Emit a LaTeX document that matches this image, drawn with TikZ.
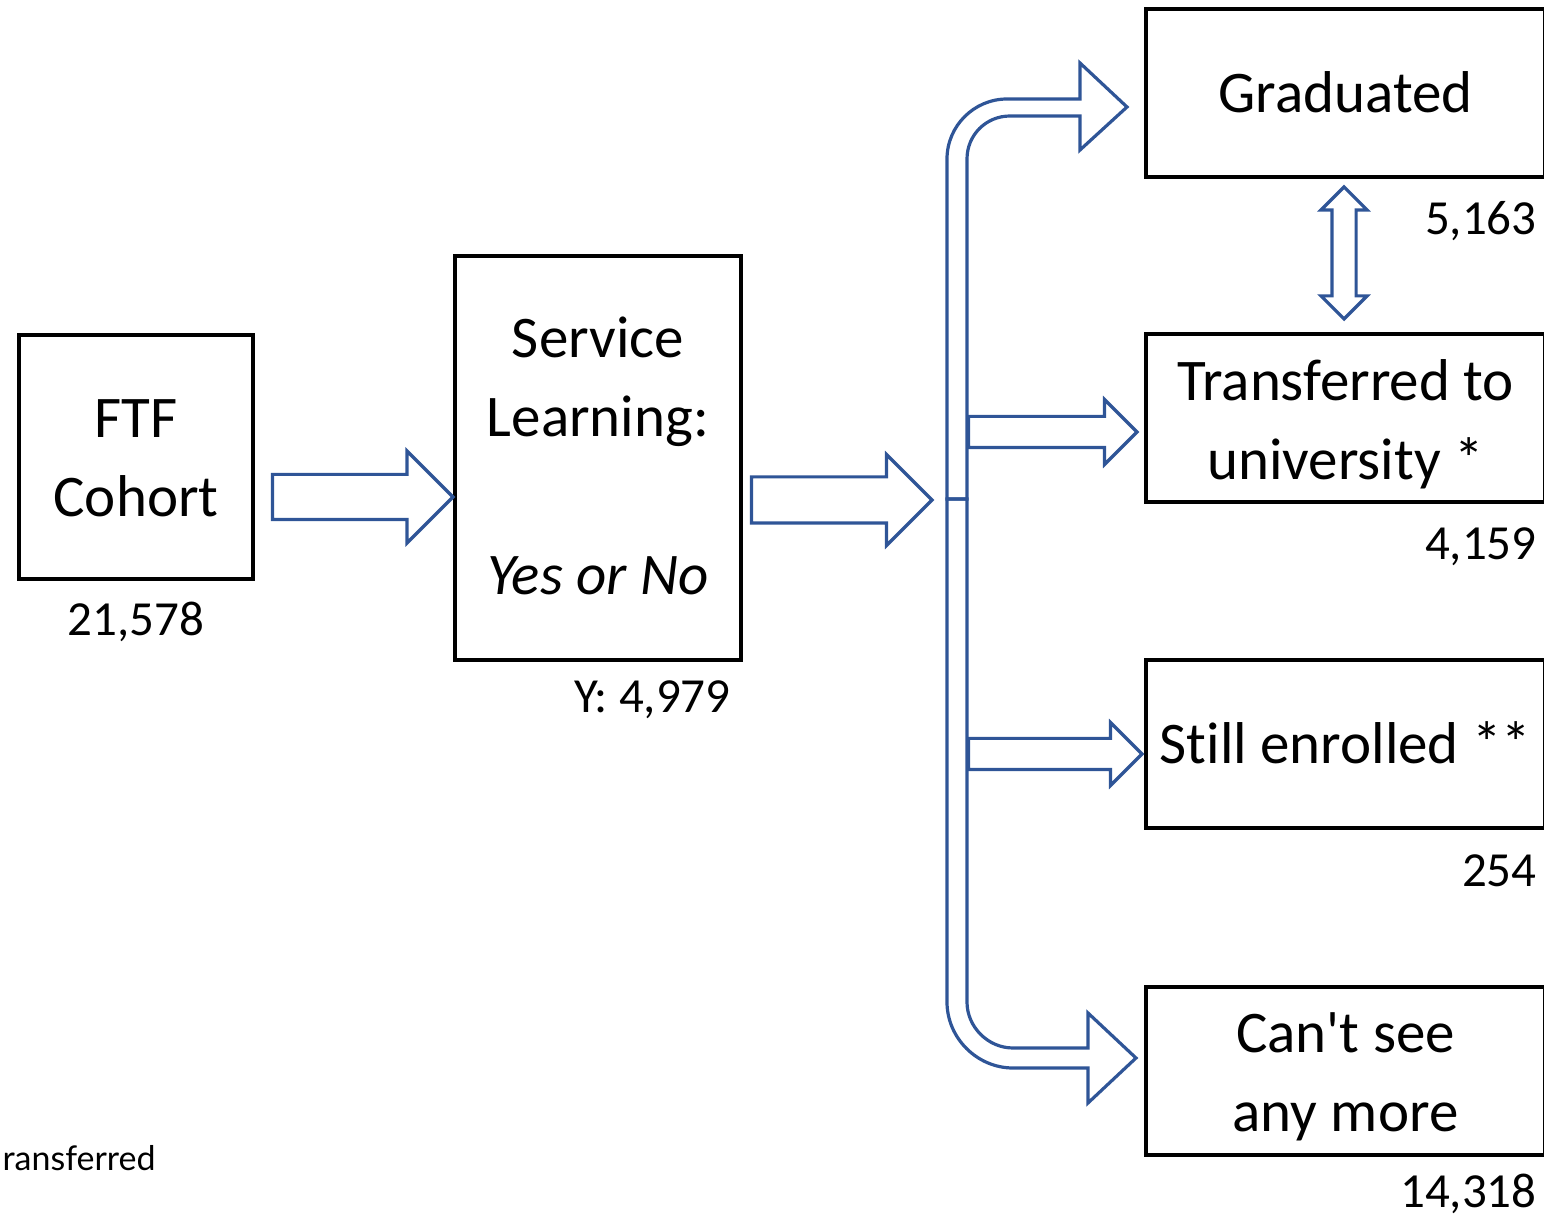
\documentclass[tikz,border=0pt]{standalone}
\usepackage{fontspec}
\setmainfont{Carlito}[Ligatures={TeXOff,NoCommon}]
\newfontfamily\notefont{Lato}
\usepackage{tikz}
\usetikzlibrary{shapes.arrows,positioning,calc}
\definecolor{arrowcol}{RGB}{47,85,151}

\begin{document}
\begin{tikzpicture}[x=0.5pt,y=-0.5pt,
   box/.style={draw,line width=2pt,inner sep=0pt},
   boxtext/.style={anchor=base,align=center,inner sep=0pt,
      font=\fontsize{29.5}{39.5}\selectfont},
   numtext/.style={anchor=base east,inner sep=0pt,font=\fontsize{24.5}{29}\selectfont},
   blockarr/.style={single arrow,draw=arrowcol,line width=1.6pt,inner xsep=0pt,
      outer sep=0pt,anchor=tip},
   bentarr/.style={draw=arrowcol,line width=1.6pt}]
  \useasboundingbox (0,0) rectangle (1544,1219);
  % ---------- boxes ----------
  \node[box,minimum width=116.75pt,minimum height=122pt] (ftf) at (136,457.5) {};
  \node[box,minimum width=143pt,minimum height=202pt] (sl) at (598,458) {};
  \node[box,minimum width=199.5pt,minimum height=84pt] (grad) at (1345.5,93) {};
  \node[box,minimum width=199.5pt,minimum height=84pt] (trans) at (1345.5,418) {};
  \node[box,minimum width=199.5pt,minimum height=84pt] (still) at (1345.5,744) {};
  \node[box,minimum width=199.5pt,minimum height=84pt] (gone) at (1345.5,1071) {};
  % ---------- box texts (base = last line) ----------
  \node[boxtext] (ftftxt) at ([yshift=-29.75pt]ftf.center) {FTF\\Cohort};
  \node[boxtext] (sltxt) at ([yshift=-68.5pt]sl.center)
     {Service\\Learning:\\\mbox{}\\\textit{Yes or No}};
  \node[boxtext] (gradtxt) at ([yshift=-10pt]grad.center) {Graduated};
  \node[boxtext] (transtxt) at ([yshift=-31pt]trans.center) {Transferred to\\university *};
  \node[boxtext] (stilltxt) at ([yshift=-9.5pt]still.center) {Still enrolled **};
  \node[boxtext] (gonetxt) at ([yshift=-30pt]gone.center) {Can't see\\any more};
  % ---------- counts ----------
  \node[numtext,anchor=base] (ftfnum) at ([yshift=-27pt]ftf.south) {21,578};
  \node[numtext] (slnum) at ([xshift=-6pt,yshift=-25.5pt]sl.south east) {Y: 4,979};
  \node[numtext] (gradnum) at ([xshift=-5pt,yshift=-28pt]grad.south east) {5,163};
  \node[numtext] (transnum) at ([xshift=-5pt,yshift=-28pt]trans.south east) {4,159};
  \node[numtext] (stillnum) at ([xshift=-5pt,yshift=-28pt]still.south east) {254};
  \node[numtext] (gonenum) at ([xshift=-5pt,yshift=-25pt]gone.south east) {14,318};
  \node[anchor=base east,inner sep=0pt,font=\notefont\fontsize{17}{20}\selectfont]
     (note) at (156,1170) {ransferred};
  % ---------- straight arrows ----------
  \coordinate (hub) at (947,499);
  \node[blockarr,inner ysep=10.5pt,minimum height=90.25pt,
     single arrow head extend=11.75pt] (a1) at ([yshift=-19.5pt]sl.west) {};
  \node[blockarr,inner ysep=10.75pt,minimum height=90.25pt,
     single arrow head extend=11.25pt] (a2) at ([xshift=-7.5pt,yshift=-0.5pt]hub) {};
  \node[blockarr,inner ysep=7pt,minimum height=84.25pt,
     single arrow head extend=8.5pt] (a3) at ([xshift=-3.5pt,yshift=-7pt]trans.west) {};
  \node[blockarr,inner ysep=7pt,minimum height=86.75pt,
     single arrow head extend=8pt] (a4) at ([xshift=-1pt,yshift=-5pt]still.west) {};
  \node[double arrow,draw=arrowcol,line width=1.6pt,inner xsep=0pt,inner ysep=5.25pt,
     rotate=90,minimum height=66pt,double arrow head extend=5.5pt]
     (link) at ($(grad.south)!0.5!(trans.north)+(-1.5,-2.5)$) {};
  % ---------- bent arrows from the split ----------
  \draw[bentarr] (hub) -- (947,159) .. controls (947,126) and (974,99) .. (1007,99)
    -- (1080,99) -- (1080,63) -- (1127,107) -- (1080,150) -- (1080,116) -- (1010,116)
    .. controls (986,116) and (967,135) .. (967,159) -- (967,499) -- cycle;
  \draw[bentarr] (hub) -- (947,1002) .. controls (947,1038) and (977,1068) .. (1013,1068)
    -- (1088,1068) -- (1088,1103) -- (1136,1058) -- (1088,1013) -- (1088,1048) -- (1013,1048)
    .. controls (988,1048) and (967,1027) .. (967,1002) -- (967,499) -- cycle;
\end{tikzpicture}
\end{document}
